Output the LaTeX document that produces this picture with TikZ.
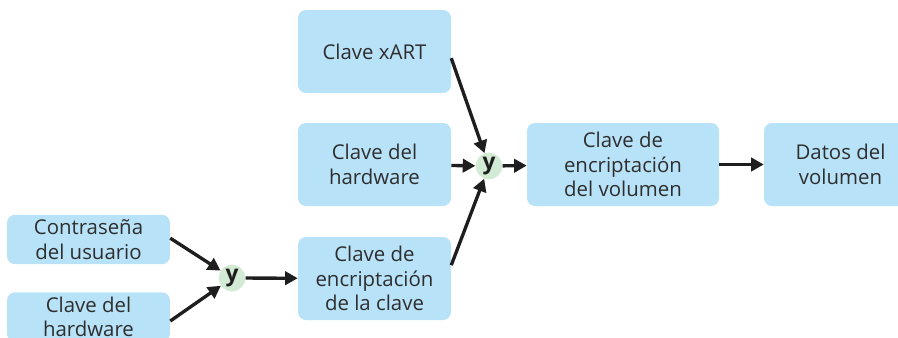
\documentclass[tikz,border=0pt]{standalone}
\usepackage{fontspec}
\setmainfont{Open Sans}
\usetikzlibrary{positioning,arrows.meta,shapes.geometric}
\definecolor{boxblue}{HTML}{B8E2F8}
\definecolor{andgreen}{HTML}{D3EBD5}
\definecolor{txtgray}{HTML}{2E2E2E}
\definecolor{arrowblack}{HTML}{1E1E1E}
\tikzset{
  keybox/.style={fill=boxblue, rounded corners=6pt, minimum width=114.75pt, minimum height=62.25pt, align=center, text=txtgray, font=\fontsize{15.3}{18.5}\selectfont, inner sep=2pt},
  smallbox/.style={keybox, minimum width=122.25pt, minimum height=37pt},
  widebox/.style={keybox, minimum width=144pt},
  andnode/.style={circle, fill=andgreen, minimum size=20pt, inner sep=0pt, font=\fontsize{17}{17}\selectfont\bfseries, text=arrowblack},
  flow/.style={->, line width=2.5pt, draw=arrowblack}
}
\begin{document}
\begin{tikzpicture}[x=0.75pt, y=-0.75pt, >={Triangle[length=9.5pt,width=10pt]}]
    \clip[use as bounding box] (0,0) rectangle (898,337);
    \node [smallbox] (pw) at (88.5,239.5) {Contraseña\\del usuario};
    \node [smallbox] (hwa) at (88.5,317) {Clave del\\hardware};
    \node [andnode] (y1) at (232,278) {y};
    \node [keybox] (kek) at (374.5,278.5) {Clave de\\encriptación\\de la clave};
    \node [keybox] (xart) at (374.5,51.5) {Clave xART};
    \node [keybox] (hwb) at (374.5,164.5) {Clave del\\hardware};
    \node [andnode] (y2) at (489,166) {y};
    \node [widebox] (vek) at (623,164.5) {Clave de\\encriptación\\del volumen};
    \node [keybox] (data) at (840.5,164.5) {Datos del\\volumen};

    \draw [flow] ([yshift=1pt]pw.east) -- (y1);
    \draw [flow] ([yshift=-3pt]hwa.east) -- (y1);
    \draw [flow] (y1) -- (kek);
    \draw [flow] ([yshift=-5pt]xart.east) -- (y2);
    \draw [flow] (hwb) -- (y2);
    \draw [flow] ([yshift=10pt]kek.east) -- (y2);
    \draw [flow] (y2) -- (vek);
    \draw [flow] (vek) -- (data);
\end{tikzpicture}
\end{document}
